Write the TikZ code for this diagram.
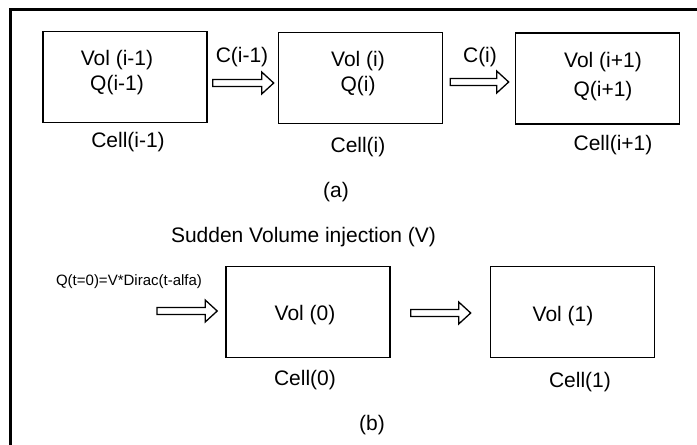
\documentclass[tikz,border=0pt]{standalone}
\usepackage{fontspec}
\setmainfont{Liberation Sans}
\usetikzlibrary{calc}
\begin{document}
\begin{tikzpicture}[x=1pt, y=-1pt,
    cellbox/.style={draw, line width=1.6pt, minimum width=164pt, minimum height=91pt, inner sep=0pt},
    celltext/.style={font=\fontsize{21}{25}\selectfont, align=center, inner sep=0pt},
    smalltext/.style={font=\fontsize{15}{18}\selectfont, inner sep=0pt},
    fatarrow/.style={line width=1.3pt, to path={let \p1=(\tikztostart), \p2=(\tikztotarget) in
        (\x1,\y1+3.5pt) -- (\x2-12pt,\y1+3.5pt) -- (\x2-12pt,\y1+11pt) -- (\x2,\y1)
        -- (\x2-12pt,\y1-11pt) -- (\x2-12pt,\y1-3.5pt) -- (\x1,\y1-3.5pt) -- cycle}}]
    \useasboundingbox (0,0) rectangle (697,445);
    % Frame, cut off at the right and bottom
    \draw[line width=3pt] (10,445) -- (10,9) -- (697,9);

    % (a) Chain of cells
    \node[cellbox] (c1) at (125,77) {};
    \node[cellbox] (c2) at (360.5,78) {};
    \node[cellbox] (c3) at (597.5,78.5) {};
    \node[celltext] (t1) at (117,73) {Vol (i-1)\\Q(i-1)};
    \node[celltext] (t2) at (358,74) {Vol (i)\\Q(i)};
    \node[celltext] (t3) at (603,77) {Vol (i+1)\\[4pt]Q(i+1)};
    \node[celltext] (n1) at (128,142) {Cell(i-1)};
    \node[celltext] (n2) at (358,147) {Cell(i)};
    \node[celltext] (n3) at (613,145) {Cell(i+1)};

    % Flows between cells
    \draw[fatarrow] ([xshift=5pt, yshift=-6pt]c1.east) to ([xshift=-4pt]c2.west);
    \draw[fatarrow] ([xshift=7pt, yshift=-4pt]c2.east) to ([xshift=-6pt]c3.west);
    \node[celltext] (f1) at (242,57) {C(i-1)};
    \node[celltext] (f2) at (480,57) {C(i)};
    \node[celltext] (la) at (336,192) {(a)};

    % (b) Sudden injection
    \node[celltext] (inj) at (303.5,237) {Sudden Volume injection (V)};
    \node[smalltext] (dirac) at (129,282) {Q(t=0)=V*Dirac(t-alfa)};
    \coordinate (in) at (157,311);
    \node[cellbox] (b0) at (308,312) {};
    \node[cellbox] (b1) at (572.5,312) {};
    \node[celltext] (v0) at (305,315) {Vol (0)};
    \node[celltext] (v1) at (563,316) {Vol (1)};
    \node[celltext] (m0) at (305,380) {Cell(0)};
    \node[celltext] (m1) at (580,382) {Cell(1)};
    \draw[fatarrow] (in) to ([xshift=-8pt]b0.west);
    \draw[fatarrow] ([xshift=20pt, yshift=-1pt]b0.east) to ([xshift=-19pt]b1.west);
    \node[celltext] (lb) at (372,425) {(b)};
\end{tikzpicture}
\end{document}
